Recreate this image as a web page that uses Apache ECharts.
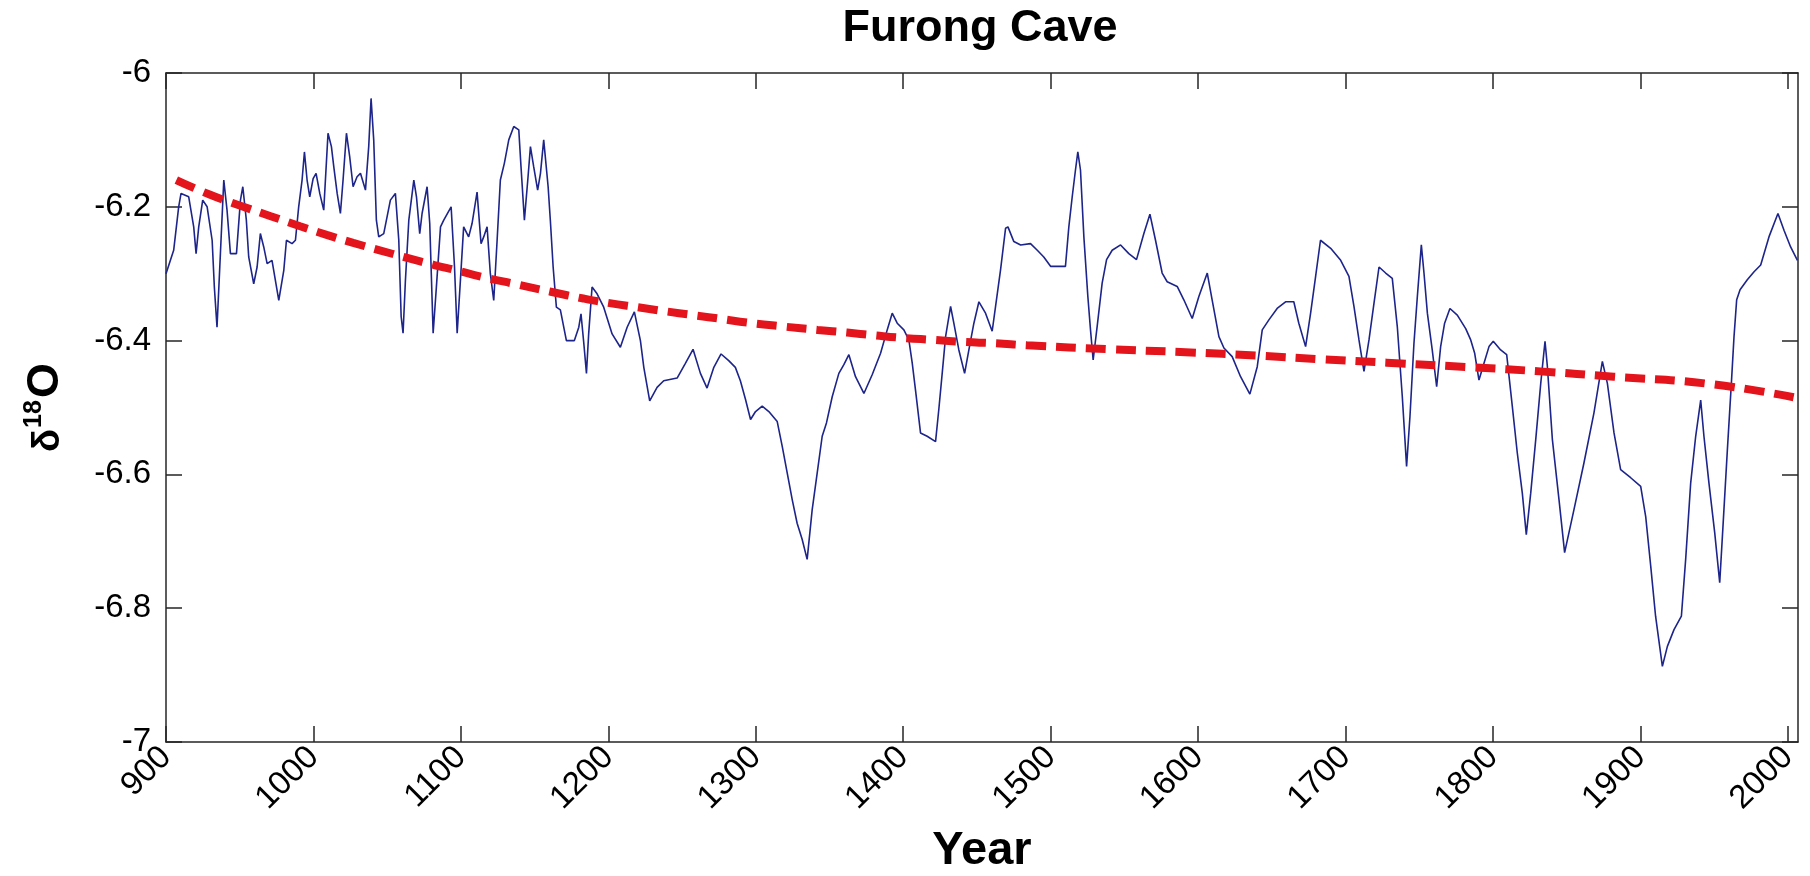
<!DOCTYPE html>
<html>
<head>
<meta charset="utf-8">
<title>Furong Cave</title>
<script src="https://cdn.jsdelivr.net/npm/echarts@6/dist/echarts.min.js"></script>
<style>
  html, body { margin: 0; padding: 0; background: #ffffff; }
  #chart { width: 1810px; height: 876px; }
</style>
</head>
<body>
<div id="chart"></div>
<script>
// Furong Cave speleothem record: year (AD) and d18O (per mil)
const years = [
  900, 905.2, 908.6, 910.2, 915.4, 918.8, 920.4, 922.2, 924.9, 927.9,
  931.3, 932.8, 934.6, 936.9, 939.2, 941.4, 943.7, 947.8, 950.5, 952.1,
  954.5, 956.1, 959.5, 961.8, 964.0, 966.3, 968.6, 971.9, 976.5, 979.9,
  981.7, 985.5, 987.8, 990.0, 992.3, 993.9, 995.7, 997.5, 999.8, 1001.8,
  1004.3, 1007.0, 1009.9, 1012.2, 1013.8, 1016.1, 1018.3, 1020.1, 1022.4, 1024.6,
  1026.9, 1029.6, 1031.9, 1035.3, 1037.5, 1039.1, 1040.9, 1042.7, 1044.3, 1047.7,
  1052.2, 1055.6, 1057.9, 1059.5, 1060.8, 1062.4, 1064.7, 1068.1, 1069.9, 1072.1,
  1073.7, 1077.1, 1078.9, 1081.2, 1083.4, 1086.2, 1088.4, 1093.4, 1095.7, 1097.5,
  1099.7, 1101.9, 1105.3, 1107.6, 1111.0, 1113.7, 1115.5, 1117.8, 1120.0, 1122.3,
  1124.6, 1126.8, 1129.5, 1132.5, 1135.9, 1139.3, 1140.8, 1143.1, 1145.4, 1147.2,
  1149.4, 1152.1, 1154.0, 1156.2, 1159.2, 1160.7, 1162.6, 1164.8, 1167.5, 1171.6,
  1177.0, 1180.0, 1181.5, 1183.4, 1185.2, 1186.7, 1189.0, 1192.4, 1196.9, 1202.6,
  1208.2, 1212.8, 1217.7, 1221.8, 1224.1, 1228.1, 1233.1, 1237.6, 1246.7, 1252.3,
  1257.5, 1262.5, 1267.0, 1271.6, 1276.5, 1281.7, 1286.2, 1289.6, 1293.1, 1296.5,
  1299.9, 1304.4, 1308.9, 1314.6, 1318.0, 1321.4, 1324.8, 1328.1, 1331.5, 1334.9,
  1338.3, 1341.7, 1345.1, 1348.0, 1351.9, 1356.4, 1359.8, 1363.2, 1367.7, 1373.4,
  1379.0, 1384.7, 1389.2, 1392.6, 1396.0, 1400.5, 1403.9, 1406.2, 1408.4, 1411.8,
  1416.3, 1422.0, 1424.2, 1426.5, 1428.8, 1432.2, 1434.4, 1437.8, 1441.7, 1444.6,
  1448.0, 1451.4, 1455.9, 1460.4, 1462.7, 1466.1, 1469.5, 1471.1, 1475.1, 1479.7,
  1486.4, 1491.0, 1495.4, 1500.0, 1510.1, 1512.4, 1514.7, 1516.9, 1518.5, 1520.3,
  1522.6, 1525.3, 1527.1, 1528.9, 1531.6, 1535.0, 1538.0, 1541.8, 1547.5, 1553.1,
  1558.3, 1563.3, 1567.4, 1571.2, 1575.7, 1579.1, 1585.9, 1590.4, 1596.1, 1600.6,
  1606.3, 1609.6, 1614.2, 1617.6, 1623.2, 1628.9, 1635.2, 1640.2, 1643.6, 1648.1,
  1653.7, 1659.4, 1665.0, 1668.4, 1673.0, 1676.4, 1679.8, 1683.1, 1690.0, 1696.8,
  1702.4, 1705.8, 1709.2, 1712.6, 1716.0, 1719.4, 1722.8, 1727.3, 1731.8, 1735.2,
  1738.6, 1741.5, 1743.8, 1746.5, 1748.8, 1751.5, 1753.3, 1755.6, 1758.9, 1761.9,
  1764.6, 1767.3, 1770.9, 1775.9, 1781.6, 1785.0, 1787.7, 1790.6, 1794.0, 1797.4,
  1800.3, 1805.3, 1809.4, 1813.2, 1816.6, 1820.0, 1822.7, 1825.7, 1829.1, 1832.5,
  1835.4, 1837.0, 1840.4, 1844.9, 1848.7, 1855.0, 1861.8, 1868.6, 1874.3, 1877.7,
  1882.2, 1886.7, 1893.5, 1900.3, 1903.7, 1907.1, 1910.4, 1915.0, 1918.4, 1922.9,
  1927.9, 1930.8, 1934.2, 1937.6, 1941.0, 1943.2, 1946.6, 1950.5, 1953.9, 1956.1,
  1959.1, 1961.8, 1963.6, 1965.4, 1967.7, 1972.6, 1977.2, 1981.7, 1987.3, 1993.4,
  1997.5, 2002.0, 2006.6
];
const d18O = [
  -6.300, -6.265, -6.200, -6.180, -6.185, -6.230, -6.270, -6.230, -6.190, -6.200,
  -6.250, -6.320, -6.380, -6.270, -6.160, -6.205, -6.270, -6.270, -6.190, -6.170,
  -6.220, -6.275, -6.315, -6.290, -6.240, -6.260, -6.285, -6.280, -6.340, -6.295,
  -6.250, -6.255, -6.250, -6.200, -6.160, -6.118, -6.160, -6.185, -6.158, -6.150,
  -6.180, -6.205, -6.090, -6.110, -6.140, -6.180, -6.210, -6.160, -6.090, -6.125,
  -6.170, -6.155, -6.150, -6.175, -6.110, -6.038, -6.100, -6.220, -6.245, -6.240,
  -6.190, -6.180, -6.250, -6.364, -6.389, -6.310, -6.220, -6.160, -6.185, -6.240,
  -6.210, -6.170, -6.225, -6.389, -6.320, -6.230, -6.220, -6.200, -6.290, -6.389,
  -6.310, -6.230, -6.245, -6.225, -6.178, -6.255, -6.245, -6.230, -6.300, -6.340,
  -6.250, -6.160, -6.135, -6.100, -6.080, -6.085, -6.140, -6.220, -6.160, -6.110,
  -6.140, -6.175, -6.150, -6.100, -6.170, -6.220, -6.290, -6.350, -6.354, -6.400,
  -6.400, -6.380, -6.360, -6.404, -6.449, -6.390, -6.320, -6.330, -6.350, -6.390,
  -6.410, -6.380, -6.357, -6.400, -6.440, -6.490, -6.470, -6.460, -6.456, -6.434,
  -6.413, -6.449, -6.471, -6.440, -6.420, -6.430, -6.440, -6.460, -6.488, -6.518,
  -6.506, -6.498, -6.506, -6.521, -6.558, -6.598, -6.638, -6.673, -6.697, -6.727,
  -6.653, -6.598, -6.543, -6.523, -6.484, -6.449, -6.436, -6.421, -6.454, -6.479,
  -6.451, -6.419, -6.384, -6.359, -6.374, -6.384, -6.399, -6.434, -6.474, -6.538,
  -6.543, -6.551, -6.503, -6.449, -6.394, -6.349, -6.374, -6.414, -6.449, -6.414,
  -6.374, -6.342, -6.359, -6.386, -6.349, -6.294, -6.232, -6.230, -6.252, -6.257,
  -6.255, -6.265, -6.275, -6.289, -6.289, -6.230, -6.185, -6.145, -6.118, -6.145,
  -6.245, -6.334, -6.384, -6.429, -6.379, -6.314, -6.279, -6.265, -6.257, -6.270,
  -6.279, -6.240, -6.211, -6.250, -6.299, -6.312, -6.319, -6.339, -6.367, -6.334,
  -6.299, -6.339, -6.394, -6.411, -6.424, -6.454, -6.480, -6.439, -6.384, -6.369,
  -6.352, -6.342, -6.342, -6.374, -6.409, -6.359, -6.304, -6.250, -6.262, -6.280,
  -6.304, -6.349, -6.399, -6.446, -6.399, -6.344, -6.290, -6.299, -6.307, -6.379,
  -6.484, -6.588, -6.513, -6.404, -6.334, -6.257, -6.299, -6.359, -6.414, -6.469,
  -6.409, -6.374, -6.352, -6.362, -6.382, -6.399, -6.419, -6.459, -6.434, -6.409,
  -6.401, -6.414, -6.421, -6.498, -6.568, -6.628, -6.690, -6.628, -6.548, -6.464,
  -6.401, -6.439, -6.548, -6.638, -6.717, -6.653, -6.583, -6.508, -6.431, -6.464,
  -6.538, -6.593, -6.605, -6.618, -6.663, -6.737, -6.812, -6.887, -6.857, -6.832,
  -6.812, -6.727, -6.613, -6.543, -6.489, -6.543, -6.613, -6.687, -6.762, -6.678,
  -6.563, -6.464, -6.394, -6.339, -6.324, -6.309, -6.297, -6.287, -6.245, -6.210,
  -6.235, -6.260, -6.280
];

// Long-term trend curve
const trendYears = [
  907, 930, 950, 971, 991, 1009, 1027, 1045, 1063, 1082,
  1097, 1115, 1138, 1161, 1183, 1201, 1220, 1238, 1258, 1278,
  1294, 1319, 1342, 1362, 1380, 1400, 1421, 1441, 1462, 1484,
  1541, 1588, 1645, 1685, 1728, 1787, 1832, 1882, 1948, 2007
];
const trendValues = [
  -6.160, -6.182, -6.198, -6.214, -6.229, -6.242, -6.254, -6.265, -6.276, -6.287,
  -6.295, -6.305, -6.316, -6.327, -6.337, -6.344, -6.350, -6.356, -6.362, -6.368,
  -6.373, -6.379, -6.384, -6.388, -6.392, -6.396, -6.399, -6.402, -6.404, -6.407,
  -6.413, -6.417, -6.423, -6.428, -6.433, -6.440, -6.446, -6.454, -6.465, -6.486
];

// Axis ticks
const xTickValues = [900, 1000, 1100, 1200, 1300, 1400, 1500, 1600, 1700, 1800, 1900, 2000];
const yTickValues = [-7, -6.8, -6.6, -6.4, -6.2, -6];

const FONT = '"Liberation Sans", Arial, Helvetica, sans-serif';
const AXIS_COLOR = '#262626';

const chart = echarts.init(document.getElementById('chart'), null, { renderer: 'canvas' });

const pair = (xs, ys) => xs.map((x, i) => [x, ys[i]]);

const baseX = {
  type: 'value', min: 900, max: 2007,
  axisLine: { show: true, onZero: false, lineStyle: { color: AXIS_COLOR, width: 1.5 } },
  axisTick: { show: true, inside: true, length: 16, customValues: xTickValues,
              lineStyle: { color: AXIS_COLOR, width: 1.5 } },
  splitLine: { show: false }
};
const baseY = {
  type: 'value', min: -7, max: -6, interval: 0.2,
  axisLine: { show: true, onZero: false, lineStyle: { color: AXIS_COLOR, width: 1.5 } },
  axisTick: { show: true, inside: true, length: 16, customValues: yTickValues,
              lineStyle: { color: AXIS_COLOR, width: 1.5 } },
  splitLine: { show: false }
};

chart.setOption({
  backgroundColor: '#ffffff',
  animation: false,
  grid: { left: 166, right: 12, top: 73, bottom: 134, containLabel: false, outerBoundsMode: 'none' },
  graphic: [{
    type: 'text', x: 980, y: 29,
    style: {
      text: 'Furong Cave', fill: '#000',
      font: 'bold 45px ' + FONT,
      textAlign: 'center', textVerticalAlign: 'middle'
    }
  }],
  xAxis: [
    Object.assign({}, baseX, {
      position: 'bottom',
      name: 'Year', nameLocation: 'middle', nameGap: 86,
      nameTextStyle: { fontFamily: FONT, fontWeight: 'bold', fontSize: 47, color: '#000' },
      axisLabel: {
        show: true, rotate: 45, margin: 10, customValues: xTickValues,
        formatter: (v) => String(v),
        fontFamily: FONT, fontSize: 33, color: '#000'
      }
    }),
    Object.assign({}, baseX, { position: 'top', axisLabel: { show: false } })
  ],
  yAxis: [
    Object.assign({}, baseY, {
      position: 'left',
      name: '{d|δ}{s|18}{o|O}', nameLocation: 'middle', nameGap: 98, nameRotate: 90,
      nameTextStyle: {
        color: '#000',
        rich: {
          d: { fontFamily: FONT, fontWeight: 'bold', fontSize: 38, color: '#000', verticalAlign: 'bottom', lineHeight: 46 },
          s: { fontFamily: FONT, fontWeight: 'bold', fontSize: 25, color: '#000', verticalAlign: 'top', lineHeight: 46, padding: [0, 2, 0, 1] },
          o: { fontFamily: FONT, fontWeight: 'bold', fontSize: 45, color: '#000', verticalAlign: 'bottom', lineHeight: 46 }
        }
      },
      axisLabel: {
        show: true, margin: 15, customValues: yTickValues,
        formatter: (v) => String(Math.round(v * 10) / 10),
        fontFamily: FONT, fontSize: 33, color: '#000'
      }
    }),
    Object.assign({}, baseY, { position: 'right', axisLabel: { show: false } })
  ],
  series: [
    {
      name: 'd18O', type: 'line', xAxisIndex: 0, yAxisIndex: 0,
      data: pair(years, d18O),
      showSymbol: false, symbol: 'none',
      lineStyle: { color: '#1d248a', width: 1.6 },
      z: 2
    },
    {
      name: 'trend', type: 'line', xAxisIndex: 0, yAxisIndex: 0,
      data: pair(trendYears, trendValues),
      showSymbol: false, symbol: 'none', smooth: true,
      lineStyle: { color: '#e3141c', width: 8, type: [20, 10], cap: 'butt' },
      z: 3
    }
  ]
});
</script>
</body>
</html>
